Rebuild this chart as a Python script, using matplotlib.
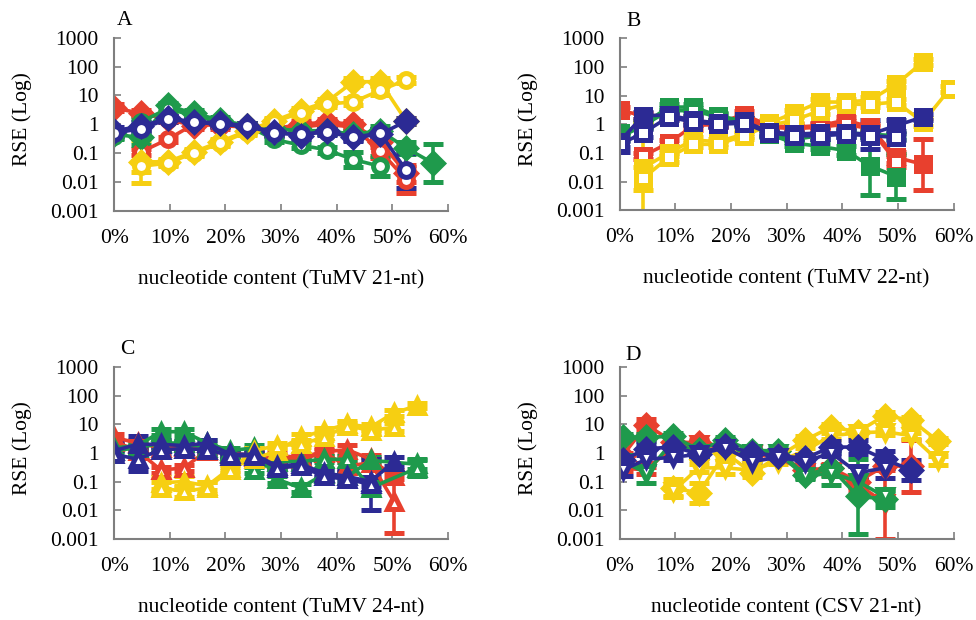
import numpy as np
import matplotlib
matplotlib.use('Agg')
import matplotlib.pyplot as plt

plt.rcParams['font.family'] = ['Liberation Serif', 'DejaVu Serif']

nan = np.nan

# colours of the four series groups
red = '#e8402e'
green = '#1f9a4c'
blue = '#2c2a94'
yellow = '#f6cf12'

# ---------- panel A : TuMV 21-nt ----------
a_x = [0, 4.8, 9.6, 14.3, 19.1, 23.9, 28.7, 33.5, 38.2, 43, 47.8, 52.5, 57.3]
a_red = [[3.7, 2.4, 1.5, 0.9, 1.1, 0.9, 0.7, 1.0, 1.2, 1.0, 0.25, 0.02, nan],
         [nan, 0.11, 0.3, 1.0, 0.9, 0.8, 0.55, 0.8, 1.0, 0.8, 0.12, 0.012, nan]]
a_red_err = [[0.12, 0.1, 0.1, 0.1, 0.1, 0.1, 0.1, 0.12, 0.12, 0.12, 0.2, 0.3, nan],
             [nan, 0.1, 0.1, 0.1, 0.1, 0.1, 0.1, 0.1, 0.1, 0.1, 0.25, 0.45, nan]]
a_green = [[0.45, 0.35, 4.5, 2.4, 1.4, 0.9, 0.7, 0.6, 0.6, 0.45, 0.6, 0.15, 0.045],
           [0.4, 1.2, 3.5, 2.0, 1.2, 0.9, 0.3, 0.19, 0.13, 0.06, 0.035, nan, nan]]
a_green_err = [[0.12, 0.25, 0.1, 0.1, 0.1, 0.1, 0.1, 0.1, 0.1, 0.1, 0.15, 0.2, 0.65],
               [0.1, 0.1, 0.1, 0.1, 0.1, 0.1, 0.1, 0.1, 0.1, 0.25, 0.35, nan, nan]]
a_blue = [[0.6, 0.85, 1.6, 1.25, 1.1, 0.9, 0.55, 0.4, 0.6, 0.35, 0.45, 1.3, nan],
          [0.5, 0.7, 1.5, 1.2, 1.0, 0.85, 0.5, 0.45, 0.55, 0.35, 0.5, 0.025, nan]]
a_blue_err = [[0.12, 0.15, 0.1, 0.1, 0.1, 0.1, 0.1, 0.12, 0.12, 0.12, 0.2, 0.1, nan],
              [0.1, 0.1, 0.1, 0.1, 0.1, 0.1, 0.1, 0.1, 0.1, 0.1, 0.15, 0.6, nan]]
a_yellow = [[nan, 0.05, 0.05, 0.11, 0.25, 0.6, 1.3, 3.0, 6.0, 30, 30, 1.3, nan],
            [nan, 0.035, 0.045, 0.1, 0.22, 0.55, 1.2, 2.5, 5.0, 6.0, 15, 35, nan]]
a_yellow_err = [[nan, 0.75, 0.1, 0.1, 0.1, 0.1, 0.1, 0.1, 0.1, 0.12, 0.12, 0.1, nan],
                [nan, 0.2, 0.1, 0.1, 0.1, 0.1, 0.1, 0.1, 0.1, 0.12, 0.15, 0.1, nan]]

# ---------- panel B : TuMV 22-nt ----------
b_x = [0, 4.2, 8.8, 13.2, 17.7, 22.3, 26.8, 31.4, 36, 40.6, 45, 49.7, 54.5, 59.3]
b_red = [[3.1, 2.0, 2.0, 1.3, 1.1, 2.2, 0.9, 0.8, 0.9, 1.4, 0.8, 0.07, 0.04, nan],
         [nan, 0.08, 0.22, 0.9, 1.0, 1.5, 0.8, 0.7, 0.8, 1.0, 0.7, 0.05, nan, nan]]
b_red_err = [[0.1, 0.1, 0.1, 0.15, 0.1, 0.12, 0.1, 0.1, 0.1, 0.12, 0.12, 0.2, 0.9, nan],
             [nan, 0.1, 0.1, 0.15, 0.1, 0.1, 0.1, 0.1, 0.1, 0.1, 0.1, 0.2, nan, nan]]
b_green = [[0.5, 1.0, 4.0, 4.0, 2.0, 1.3, 0.45, 0.22, 0.17, 0.12, 0.035, 0.015, nan, nan],
           [0.35, 0.9, 3.0, 3.0, 1.8, 1.2, 0.5, 0.3, 0.4, 0.5, 0.45, 0.4, nan, nan]]
b_green_err = [[0.12, 0.1, 0.1, 0.1, 0.1, 0.1, 0.1, 0.1, 0.1, 0.15, 1.0, 0.8, nan, nan],
               [0.1, 0.1, 0.1, 0.1, 0.1, 0.1, 0.1, 0.1, 0.1, 0.1, 0.1, 0.1, nan, nan]]
b_blue = [[0.25, 2.0, 2.1, 1.4, 1.1, 1.3, 0.55, 0.45, 0.5, 0.5, 0.45, 0.9, 1.8, nan],
          [0.2, 0.5, 1.8, 1.2, 1.0, 1.1, 0.5, 0.4, 0.4, 0.45, 0.4, 0.35, nan, nan]]
b_blue_err = [[0.35, 0.12, 0.1, 0.15, 0.1, 0.1, 0.1, 0.15, 0.2, 0.15, 0.5, 0.2, 0.1, nan],
              [0.1, 0.15, 0.1, 0.1, 0.1, 0.1, 0.1, 0.1, 0.1, 0.1, 0.1, 0.1, nan, nan]]
b_yellow = [[nan, 0.03, 0.1, 0.28, 0.25, 0.45, 1.1, 2.5, 6.0, 6.0, 7.0, 25, 150, nan],
            [nan, 0.013, 0.07, 0.2, 0.2, 0.4, 0.9, 1.4, 3.0, 5.0, 5.0, 6.0, 1.2, 17]]
b_yellow_err = [[nan, 1.6, 0.12, 0.1, 0.1, 0.1, 0.1, 0.1, 0.1, 0.1, 0.1, 0.1, 0.1, nan],
                [nan, 0.4, 0.15, 0.1, 0.1, 0.1, 0.1, 0.1, 0.1, 0.1, 0.1, 0.1, 0.15, 0.1]]

# ---------- panel C : TuMV 24-nt ----------
c_x = [0, 4.2, 8.4, 12.5, 16.7, 20.9, 25.1, 29.3, 33.5, 37.7, 41.9, 46.1, 50.3, 54.5]
c_red = [[3.5, 2.2, 1.5, 1.6, 1.3, 1.0, 0.8, 0.8, 0.7, 1.1, 1.3, 0.6, 0.15, nan],
         [2.5, 1.2, 0.25, 0.3, 1.2, 0.9, 0.7, 0.6, 0.6, 1.0, 0.35, 0.45, 0.02, nan]]
c_red_err = [[0.12, 0.1, 0.1, 0.1, 0.1, 0.1, 0.1, 0.1, 0.1, 0.12, 0.15, 0.15, 0.1, nan],
             [0.1, 0.1, 0.1, 0.1, 0.1, 0.1, 0.1, 0.1, 0.1, 0.1, 0.15, 0.15, 1.1, nan]]
c_green = [[1.5, 1.8, 5.5, 5.5, 2.2, 1.2, 1.5, 0.12, 0.06, 0.18, 0.15, 0.55, nan, 0.4],
           [1.2, 1.5, 2.2, 2.2, 1.5, 1.0, 0.25, 0.5, 0.5, 0.6, 0.6, 0.06, nan, 0.3]]
c_green_err = [[0.1, 0.1, 0.1, 0.1, 0.1, 0.1, 0.1, 0.12, 0.15, 0.15, 0.12, 0.12, nan, 0.15],
               [0.1, 0.1, 0.1, 0.1, 0.1, 0.1, 0.1, 0.1, 0.1, 0.1, 0.1, 0.25, nan, 0.3]]
c_blue = [[1.2, 2.0, 2.0, 1.8, 2.2, 0.9, 0.9, 0.35, 0.4, 0.2, 0.15, 0.1, 0.5, nan],
          [0.9, 0.6, 1.3, 1.4, 1.3, 0.8, 0.8, 0.3, 0.35, 0.15, 0.12, 0.08, nan, nan]]
c_blue_err = [[0.3, 0.3, 0.15, 0.15, 0.12, 0.1, 0.1, 0.1, 0.12, 0.15, 0.2, 0.15, 0.15, nan],
              [0.15, 0.4, 0.1, 0.1, 0.1, 0.1, 0.1, 0.1, 0.1, 0.1, 0.25, 0.9, nan, nan]]
c_yellow = [[nan, nan, 0.09, 0.1, 0.07, 0.3, 0.6, 1.2, 3.5, 6.0, 10, 8.0, 25, 45],
            [nan, nan, 0.06, 0.045, 0.06, 0.25, 1.2, 1.8, 2.0, 3.5, 9.0, 6.0, 8.0, nan]]
c_yellow_err = [[nan, nan, 0.2, 0.2, 0.15, 0.1, 0.1, 0.1, 0.1, 0.1, 0.1, 0.1, 0.1, 0.1],
                [nan, nan, 0.2, 0.2, 0.2, 0.1, 0.1, 0.1, 0.1, 0.1, 0.1, 0.1, 0.15, nan]]

# ---------- panel D : CSV 21-nt ----------
d_x = [0.5, 4.8, 9.5, 14.2, 19, 23.8, 28.5, 33.3, 38, 42.8, 47.6, 52.4, 57.2]
d_red = [[0.8, 9.5, 2.5, 2.2, 1.7, 1.0, 0.8, 0.25, 0.3, 0.1, 0.35, 0.35, nan],
         [0.3, 0.25, 1.7, 2.0, 1.5, 0.9, 0.7, 0.22, 0.22, 0.08, 0.018, nan, nan]]
d_red_err = [[0.1, 0.2, 0.1, 0.1, 0.1, 0.1, 0.1, 0.1, 0.15, 0.2, 0.15, 0.9, nan],
             [0.1, 0.12, 0.1, 0.1, 0.1, 0.1, 0.1, 0.1, 0.1, 0.2, 1.25, nan, nan]]
d_green = [[3.5, 3.5, 3.8, 1.3, 2.8, 1.2, 1.2, 0.17, 0.3, 0.03, 0.025, nan, nan],
           [0.5, 0.2, 2.5, 1.0, 1.5, 1.0, 1.0, 0.15, 0.2, 0.1, 0.03, nan, nan]]
d_green_err = [[0.12, 0.12, 0.12, 0.1, 0.12, 0.1, 0.1, 0.1, 0.6, 1.3, 0.3, nan, nan],
               [0.1, 0.35, 0.1, 0.1, 0.1, 0.1, 0.1, 0.1, 0.1, 0.15, 0.2, nan, nan]]
d_blue = [[0.55, 1.4, 1.6, 0.95, 1.8, 1.0, 0.8, 0.65, 1.6, 1.6, 0.6, 0.25, nan],
          [0.25, 0.6, 0.7, 0.9, 1.5, 0.5, 0.7, 0.5, 1.0, 0.2, 0.3, nan, nan]]
d_blue_err = [[0.2, 0.2, 0.15, 0.1, 0.15, 0.12, 0.1, 0.12, 0.2, 0.25, 0.3, 0.35, nan],
              [0.2, 0.15, 0.1, 0.1, 0.1, 0.1, 0.1, 0.1, 0.1, 0.25, 0.35, nan, nan]]
d_yellow = [[nan, nan, 0.06, 0.04, 1.0, 0.2, 0.75, 2.8, 8.0, 5.5, 20, 14, 2.6],
            [nan, nan, 0.045, 0.3, 0.3, 0.25, 0.5, 1.2, 4.0, 5.0, 5.5, 4.0, 0.55]]
d_yellow_err = [[nan, nan, 0.3, 0.35, 0.2, 0.15, 0.1, 0.15, 0.1, 0.1, 0.12, 0.12, 0.1],
                [nan, nan, 0.2, 0.15, 0.2, 0.1, 0.1, 0.1, 0.1, 0.1, 0.1, 0.1, 0.15]]

x_ticks = [0, 10, 20, 30, 40, 50, 60]
x_labels = ['0%', '10%', '20%', '30%', '40%', '50%', '60%']
y_ticks = [0.001, 0.01, 0.1, 1, 10, 100, 1000]
y_labels = ['0.001', '0.01', '0.1', '1', '10', '100', '1000']

panels = [
    ('A', 'nucleotide content (TuMV 21-nt)', a_x, [a_red, a_green, a_yellow, a_blue],
     [a_red_err, a_green_err, a_yellow_err, a_blue_err], ['D', 'o']),
    ('B', 'nucleotide content (TuMV 22-nt)', b_x, [b_red, b_green, b_yellow, b_blue],
     [b_red_err, b_green_err, b_yellow_err, b_blue_err], ['s', 's']),
    ('C', 'nucleotide content (TuMV 24-nt)', c_x, [c_red, c_green, c_yellow, c_blue],
     [c_red_err, c_green_err, c_yellow_err, c_blue_err], ['^', '^']),
    ('D', 'nucleotide content (CSV 21-nt)', d_x, [d_red, d_green, d_yellow, d_blue],
     [d_red_err, d_green_err, d_yellow_err, d_blue_err], ['D', 'v']),
]
colors = [red, green, yellow, blue]

# axes rectangles in figure fractions (left, bottom, width, height)
rects = [[0.117, 0.660, 0.342, 0.279],
         [0.635, 0.661, 0.342, 0.277],
         [0.117, 0.131, 0.342, 0.277],
         [0.635, 0.131, 0.342, 0.277]]
letter_pos = [(0.03, 1.10), (0.04, 1.10), (0.04, 1.10), (0.04, 1.07)]

fig = plt.figure(figsize=(9.76, 6.2), dpi=100)
fs = 15.5

for (letter, xlab, xs, groups, errs, mk), rect, lp in zip(panels, rects, letter_pos):
    ax = fig.add_axes(rect)
    xs = np.array(xs) / 100.0
    for col, grp, egrp in zip(colors, groups, errs):
        for k in range(2):
            y = np.array(grp[k], dtype=float)
            e = np.array(egrp[k], dtype=float)
            lo = y - y * 10 ** (-e)
            hi = y * 10 ** e - y
            ok = ~np.isnan(y)
            face = col if k == 0 else 'white'
            ax.errorbar(xs[ok], y[ok], yerr=[lo[ok], hi[ok]], color=col, lw=2.6,
                        marker=mk[k], ms=10, mfc=face, mec=col, mew=3.6,
                        ecolor=col, elinewidth=2.6, capsize=7, capthick=2.6)
    ax.set_yscale('log')
    ax.set_ylim(0.001, 1000)
    ax.set_xlim(0, 0.6)
    ax.set_xticks(np.array(x_ticks) / 100.0)
    ax.set_xticklabels(x_labels)
    ax.set_yticks(y_ticks)
    ax.set_yticklabels(y_labels)
    ax.minorticks_off()
    ax.tick_params(direction='in', length=5, width=1.2, colors='#7f7f7f',
                   labelcolor='black', labelsize=fs)
    ax.tick_params(axis='x', pad=13)
    ax.tick_params(axis='y', pad=11)
    for s in ['top', 'right']:
        ax.spines[s].set_visible(False)
    for s in ['left', 'bottom']:
        ax.spines[s].set_color('#7f7f7f')
        ax.spines[s].set_linewidth(1.5)
    ax.patch.set_alpha(0)
    ax.text(0.5, -0.40, xlab, transform=ax.transAxes, ha='center', va='center',
            fontsize=fs)
    ax.text(-0.275, 0.53, 'RSE (Log)', transform=ax.transAxes, ha='center',
            va='center', rotation=90, fontsize=fs)
    ax.text(lp[0], lp[1], letter, transform=ax.transAxes, ha='center',
            va='center', fontsize=fs)

fig.savefig('out.png', dpi=100)
